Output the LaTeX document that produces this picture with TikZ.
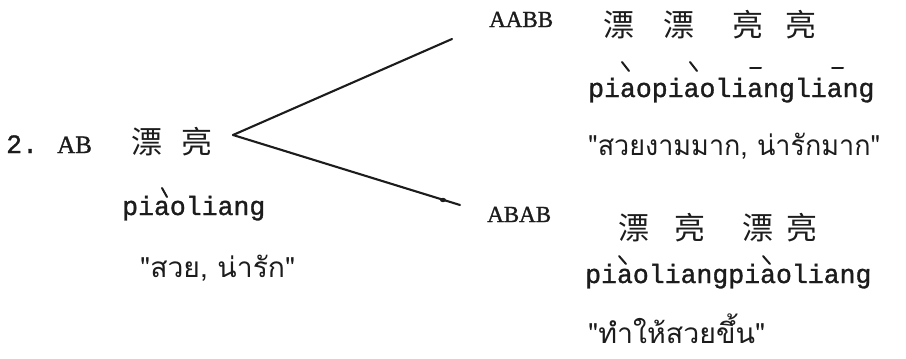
\documentclass[tikz,border=0pt]{standalone}
\usepackage{fontspec}
\usepackage{graphicx}
\newfontfamily\monofont[FakeBold=1.2]{Liberation Mono}
\newfontfamily\serfont[FakeBold=1.2]{Liberation Serif}
\newfontfamily\cjkfont{Noto Sans CJK SC}
\newfontfamily\thaifont[Script=Thai]{Loma}
\definecolor{ink}{HTML}{1C1C1C}
\begin{document}
\begin{tikzpicture}[x=1pt,y=-1pt,
  every node/.style={inner sep=0pt, text=ink},
  mono/.style={font=\monofont\fontsize{26.5}{30}\selectfont, anchor=base west},
  pattern/.style={font=\serfont\fontsize{23}{26}\selectfont, anchor=base west},
  hanzi/.style={font=\cjkfont\fontsize{31}{34}\selectfont, anchor=west},
  gloss/.style={font=\thaifont\fontsize{28}{32}\selectfont, anchor=base west},
  branch/.style={draw=ink, line width=2.1pt, line cap=round},
  tone/.style={draw=ink, line width=2pt, line cap=round}]
\useasboundingbox[fill=white] (0,0) rectangle (906,359);

% base form
\node[mono] (num) at (6,153) {2.};
\node[pattern, font=\serfont\fontsize{25}{28}\selectfont] (ab) at (57,153) {AB};
\node[hanzi] (base) at (131.5,142) {漂\hspace{19pt}亮};
\node[mono] (basepy) at (122,215) {piaoliang};
\node[gloss] (basegl) at (140,277) {\resizebox{155pt}{\height}{"สวย, น่ารัก"}};

% reduplicated forms
\node[pattern] (aabb) at (489,27) {AABB};
\node[hanzi] (aabbhz) at (603.5,25) {漂\hspace{29pt}漂\hspace{38pt}亮\hspace{22pt}亮};
\node[mono] (aabbpy) at (588,97) {piaopiaoliangliang};
\node[gloss] (aabbgl) at (588,155) {\resizebox{292pt}{\height}{"สวยงามมาก, น่ารักมาก"}};

\node[pattern] (abab) at (487,222) {ABAB};
\node[hanzi] (ababhz) at (618.5,228) {漂\hspace{25pt}亮\hspace{37pt}漂\hspace{13pt}亮};
\node[mono] (ababpy) at (585,283) {piaoliangpiaoliang};
\node[gloss] (ababgl) at (588,343) {\resizebox{177pt}{\height}{"ทำให้สวยขึ้น"}};

% tone marks typed above the pinyin
\draw[tone] (162,188) -- (167,197);
\draw[tone] (622,62) -- (629,71);
\draw[tone] (690,62) -- (697,71);
\draw[tone] (750,68) -- (761,68);
\draw[tone] (832,68) -- (843,68);
\draw[tone] (619,256) -- (626,264);
\draw[tone] (763,256) -- (770,264);

% branching lines
\coordinate (fork) at (233,135);
\coordinate (up) at (452,39);
\coordinate (down) at (460,205);
\coordinate (knot) at (443,200);
\draw[branch] (fork) -- (up);
\draw[branch] (fork) -- (down);
\fill[ink] (knot) ellipse (3pt and 2.2pt);
\end{tikzpicture}
\end{document}
